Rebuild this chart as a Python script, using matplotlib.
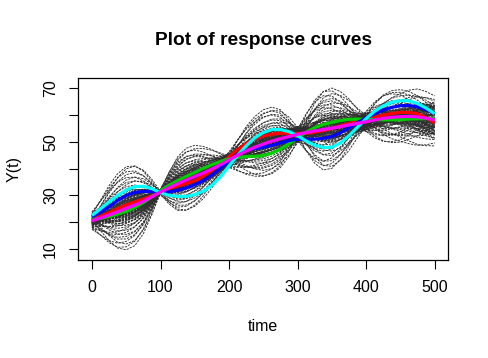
import numpy as np
import matplotlib
matplotlib.use("Agg")
import matplotlib.pyplot as plt

plt.rcParams["font.family"] = ["Liberation Sans", "DejaVu Sans"]

# time grid the curves were read at (every 12.5)
time = [0, 12.5, 25, 37.5, 50, 62.5, 75, 87.5, 100, 112.5, 125, 137.5, 150,
        162.5, 175, 187.5, 200, 212.5, 225, 237.5, 250, 262.5, 275, 287.5,
        300, 312.5, 325, 337.5, 350, 362.5, 375, 387.5, 400, 412.5, 425,
        437.5, 450, 462.5, 475, 487.5, 500]

# coloured response curves
y_red = [21.0, 22.2, 23.6, 25.1, 26.5, 27.6, 28.6, 29.9, 31.3, 32.5, 33.5,
         34.4, 35.5, 37.1, 39.3, 41.8, 44.5, 47.2, 49.4, 51.0, 52.2, 52.9,
         53.2, 53.2, 53.1, 53.2, 53.6, 54.2, 55.0, 56.0, 56.9, 57.6, 58.3,
         59.2, 60.0, 60.6, 61.0, 61.0, 60.5, 59.0, 57.0]
y_green = [21.0, 21.4, 22.1, 23.0, 24.0, 25.5, 27.3, 29.5, 31.8, 33.8, 35.5,
           37.1, 38.6, 40.1, 41.5, 42.7, 43.6, 44.2, 44.5, 44.6, 44.9, 45.8,
           47.3, 49.3, 51.5, 53.6, 55.3, 56.5, 57.3, 58.0, 58.4, 58.5, 58.4,
           58.3, 58.2, 58.2, 58.3, 58.5, 58.6, 58.7, 58.8]
y_blue = [22.0, 23.8, 25.8, 28.2, 30.0, 31.1, 31.5, 31.4, 31.2, 31.3, 31.9,
          32.8, 34.0, 35.6, 37.7, 40.3, 43.0, 45.3, 46.8, 47.5, 48.0, 48.7,
          49.6, 50.5, 51.0, 51.0, 51.0, 51.3, 52.0, 53.4, 55.3, 57.2, 59.0,
          60.6, 61.9, 62.9, 63.5, 63.6, 63.0, 62.0, 60.6]
y_cyan = [22.5, 25.0, 27.6, 30.0, 32.0, 33.3, 33.4, 32.5, 31.0, 30.0, 29.6,
          29.6, 30.3, 31.6, 33.8, 37.0, 41.0, 45.0, 48.5, 51.5, 53.5, 54.6,
          54.6, 53.8, 52.3, 50.3, 48.7, 47.9, 48.0, 49.6, 52.3, 55.5, 58.7,
          61.5, 63.5, 64.8, 65.4, 65.3, 64.3, 62.6, 60.5]
y_magenta = [20.5, 21.6, 22.7, 23.9, 25.2, 26.4, 27.8, 29.5, 31.3, 32.9, 34.4,
             35.8, 37.1, 38.4, 39.9, 41.5, 43.3, 45.0, 46.6, 48.0, 49.2, 50.3,
             51.2, 52.0, 52.8, 53.5, 54.1, 54.6, 55.1, 55.7, 56.3, 56.9, 57.5,
             58.2, 58.8, 59.2, 59.4, 59.5, 59.3, 58.8, 58.2]

# grey sample curves: centre line plus two read-off deviation shapes
grey_centre = y_magenta
grey_shape1 = [1.5, 6.0, 10.5, 14.0, 15.5, 14.8, 11.5, 6.0, -0.5, -6.0, -10.0,
               -11.5, -11.0, -9.0, -6.0, -2.5, 1.0, 5.0, 8.5, 11.0, 12.5, 12.5,
               10.8, 6.5, 0.5, -6.0, -11.5, -14.8, -15.0, -12.5, -8.5, -3.5,
               1.0, 5.0, 7.8, 9.3, 9.8, 9.6, 8.8, 7.2, 5.0]
grey_shape2 = [2.5, 2.0, 1.5, 0.7, 0.0, -0.6, -1.0, -1.1, -1.0, -0.5, 0.0,
               0.5, 1.0, 1.5, 2.0, 2.4, 2.5, 2.3, 2.0, 1.5, 1.0, 0.5, 0.0,
               -1.5, -3.0, -2.7, -2.0, -1.0, 0.0, 1.0, 2.0, 2.9, 3.5, 3.4, 3.0,
               2.1, 1.0, -1.0, -3.0, -4.5, -6.0]
grey_w1 = [-1.00, -0.93, -0.86, -0.80, -0.74, -0.68, -0.63, -0.58, -0.53, -0.49,
           -0.45, -0.41, -0.37, -0.34, -0.31, -0.28, -0.25, -0.22, -0.19, -0.16,
           -0.14, -0.11, -0.09, -0.06, -0.04, -0.02, 0.00, 0.02, 0.04, 0.06,
           0.08, 0.10, 0.12, 0.15, 0.17, 0.20, 0.23, 0.26, 0.29, 0.32,
           0.35, 0.39, 0.43, 0.47, 0.52, 0.57, 0.62, 0.68, 0.74, 0.81,
           0.88, 0.95, 1.00, -0.20, 0.10, -0.05, 0.30, -0.35, 0.00, 0.18,
           -0.27, -0.13, 0.07, 0.22, -0.08, 0.14, -0.17, 0.27, -0.01, 0.11,
           -0.24, 0.05, -0.12, 0.19, -0.30, 0.25, -0.03, 0.09, -0.15, 0.33,
           -0.21, -0.10, 0.03, 0.16, -0.07, 0.12, -0.18, 0.21, 0.01, -0.11,
           0.24, -0.04, 0.08, -0.14, 0.13, -0.26, 0.06, 0.18, -0.09, 0.02]
grey_w2 = [0.60, -0.40, 0.90, -0.80, 0.20, -0.10, 0.70, -0.60, 0.40, -0.90,
           0.10, 0.80, -0.30, 0.50, -0.70, 0.30, -0.20, 1.00, -0.50, 0.00,
           0.60, -1.00, 0.40, -0.40, 0.90, -0.60, 0.20, -0.80, 0.70, -0.20,
           0.50, -0.70, 0.10, 0.80, -0.30, 0.30, -0.90, 0.60, -0.10, 1.00,
           -0.50, 0.00, 0.70, -0.40, 0.40, -0.80, 0.20, -0.60, 0.90, -0.20,
           0.50, -0.70, 0.30, 0.95, -0.95, 0.15, -0.45, 0.65, 0.85, -0.85,
           0.35, -0.25, 0.55, -0.65, 0.05, -0.35, 0.75, -0.15, 0.45, -0.55,
           0.25, -0.75, 0.15, -0.05, 0.65, -0.45, 0.85, -0.30, 0.10, -0.60,
           -0.20, 0.40, -0.50, 0.10, 0.60, -0.30, 0.20, -0.70, 0.50, 0.00,
           -0.40, 0.30, -0.10, 0.70, -0.60, 0.20, -0.25, 0.45, -0.35, 0.15]

yticks = [10, 20, 30, 40, 50, 60, 70]
ytick_labels = ["10", "", "30", "", "50", "", "70"]
xticks = [0, 100, 200, 300, 400, 500]

fig = plt.figure(figsize=(4.89, 3.58), dpi=100)
ax = fig.add_axes([0.160, 0.274, 0.757, 0.507])

t = np.array(time)
c = np.array(grey_centre)
s1 = np.array(grey_shape1)
s2 = np.array(grey_shape2)
for w1, w2 in zip(grey_w1, grey_w2):
    ax.plot(t, c + w1 * s1 + w2 * s2, color="#2e2e2e", lw=0.65,
            linestyle=(0, (2.5, 1.2)))

lw = 2.3
for ys, col in [(y_red, "#ff0000"), (y_green, "#00cd00"), (y_blue, "#0000ff"),
                (y_cyan, "#00ffff"), (y_magenta, "#ff00ff")]:
    ax.plot(time, ys, color=col, lw=lw, solid_capstyle="butt",
            solid_joinstyle="round")

ax.set_xlim(-20, 520)
ax.set_ylim(5.9, 73.7)
ax.set_xticks(xticks)
ax.set_xticklabels([str(v) for v in xticks])
ax.set_yticks(yticks)
ax.set_yticklabels(ytick_labels, rotation=90, va="center")
ax.tick_params(axis="both", direction="out", length=6.5, width=0.8,
               labelsize=11.5, color="black")
ax.tick_params(axis="x", pad=8)
ax.tick_params(axis="y", pad=8)
for sp in ax.spines.values():
    sp.set_linewidth(0.9)

fig.text(0.5385, 0.886, "Plot of response curves", ha="center", va="center",
         fontsize=13.8, fontweight="bold")
fig.text(0.5385, 0.089, "time", ha="center", va="center", fontsize=11.5)
fig.text(0.0286, 0.527, "Y(t)", ha="center", va="center", fontsize=11.5,
         rotation=90)

fig.savefig("out.png", dpi=100)
